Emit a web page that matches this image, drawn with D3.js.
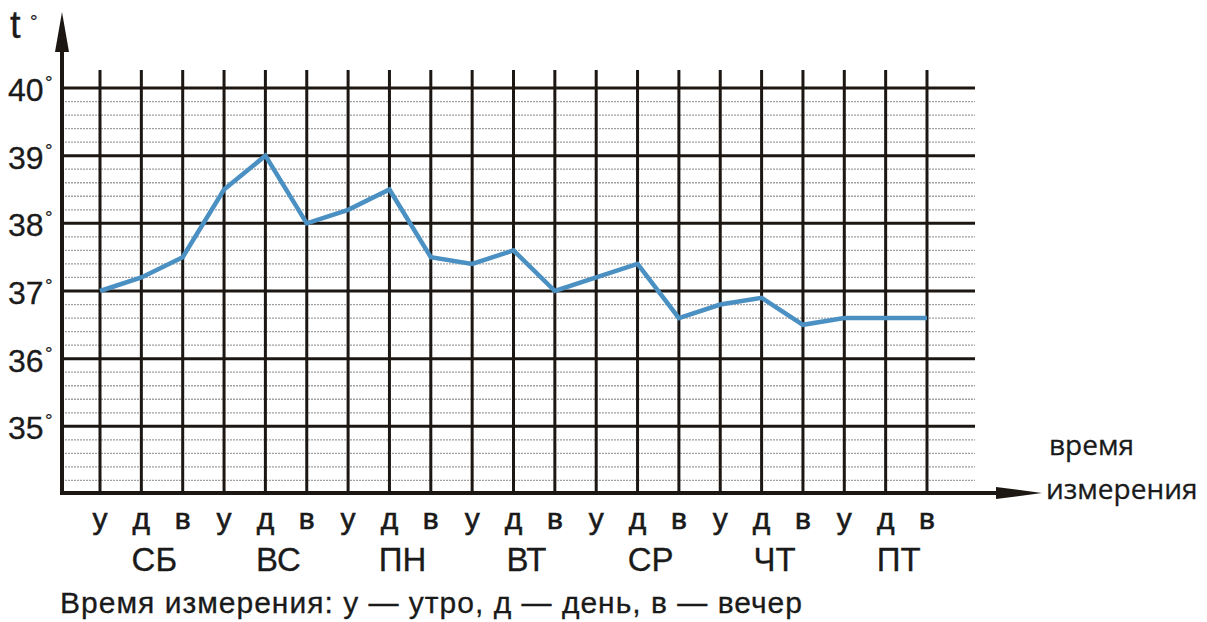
<!DOCTYPE html>
<html>
<head>
<meta charset="utf-8">
<script src="https://cdn.jsdelivr.net/npm/d3@7"></script>
<style>
  body { margin: 0; background: #fff; }
  text { font-family: "Liberation Sans", Arial, sans-serif; fill: #1a1a1a; stroke: #1a1a1a; stroke-width: 0.6px; }
</style>
</head>
<body>
<script>
// data
var days = ["СБ", "ВС", "ПН", "ВТ", "СР", "ЧТ", "ПТ"];
var times = ["у", "д", "в"];
var temps = [37.0, 37.2, 37.5, 38.5, 39.0, 38.0, 38.2, 38.5, 37.5, 37.4, 37.6, 37.0,
             37.2, 37.4, 36.6, 36.8, 36.9, 36.5, 36.6, 36.6, 36.6];
var yTicks = [35, 36, 37, 38, 39, 40];
var caption = "Время измерения: у — утро, д — день, в — вечер";

var width = 1207, height = 622;

var svg = d3.select("body").append("svg")
    .attr("width", width)
    .attr("height", height);

// scales
var x = d3.scaleLinear().domain([0, temps.length - 1]).range([100, 927]);
var y = d3.scaleLinear().domain([34, 40]).range([494, 88]);
var axisX = 62, axisY = y(34) - 1, gridRight = 975, gridTop = 70;

// minor horizontal grid (every 0.2 degree)
var minor = d3.range(34.2, 40, 0.2).filter(function(v) {
  return Math.abs(v - Math.round(v)) > 0.05;
});
svg.append("g").selectAll("line")
    .data(minor)
  .enter().append("line")
    .attr("x1", axisX).attr("x2", gridRight)
    .attr("y1", function(d) { return y(d); })
    .attr("y2", function(d) { return y(d); })
    .style("stroke", "#a0a0a0")
    .style("stroke-width", 1.3)
    .style("stroke-dasharray", "2,1");

// major horizontal grid
svg.append("g").selectAll("line")
    .data(yTicks)
  .enter().append("line")
    .attr("x1", axisX).attr("x2", gridRight)
    .attr("y1", function(d) { return y(d); })
    .attr("y2", function(d) { return y(d); })
    .style("stroke", "#1c1712")
    .style("stroke-width", 3);

// vertical grid
svg.append("g").selectAll("line")
    .data(temps)
  .enter().append("line")
    .attr("x1", function(d, i) { return x(i); })
    .attr("x2", function(d, i) { return x(i); })
    .attr("y1", gridTop).attr("y2", axisY)
    .style("stroke", "#1c1712")
    .style("stroke-width", 3);

// axes with arrows
svg.append("line")
    .attr("x1", axisX).attr("x2", axisX)
    .attr("y1", 40).attr("y2", axisY + 2)
    .style("stroke", "#1c1712").style("stroke-width", 4);
svg.append("path")
    .attr("d", "M" + axisX + ",12 L" + (axisX - 7) + ",52 L" + (axisX + 7) + ",52 Z")
    .style("fill", "#1c1712");
svg.append("line")
    .attr("x1", axisX - 2).attr("x2", 1010)
    .attr("y1", axisY).attr("y2", axisY)
    .style("stroke", "#1c1712").style("stroke-width", 4);
svg.append("path")
    .attr("d", "M1042," + axisY + " L996," + (axisY - 6) + " L996," + (axisY + 6) + " Z")
    .style("fill", "#1c1712");

// temperature line
var line = d3.line()
    .x(function(d, i) { return x(i); })
    .y(function(d) { return y(d); });

svg.append("path")
    .datum(temps)
    .attr("d", line)
    .style("fill", "none")
    .style("stroke", "#4b90c2")
    .style("stroke-width", 4.5)
    .style("stroke-linejoin", "miter");

// y labels
svg.append("g").selectAll("text")
    .data(yTicks)
  .enter().append("text")
    .attr("x", 8)
    .attr("y", function(d) { return y(d) + 13; })
    .style("font-size", "32px")
    .style("stroke-width", "0.3px")
    .text(function(d) { return d; });
svg.append("g").selectAll("text")
    .data(yTicks)
  .enter().append("text")
    .attr("x", 45)
    .attr("y", function(d) { return y(d) + 1; })
    .style("font-size", "19px")
    .style("stroke-width", "0.2px")
    .text("°");

svg.append("text")
    .attr("x", 10).attr("y", 38)
    .style("font-size", "38px")
    .style("stroke-width", "0.3px")
    .text("t");
svg.append("text")
    .attr("x", 30).attr("y", 28)
    .style("font-size", "19px")
    .style("stroke-width", "0.2px")
    .text("°");

// time-of-day labels
svg.append("g").selectAll("text")
    .data(temps)
  .enter().append("text")
    .attr("x", function(d, i) { return x(i); })
    .attr("y", 529)
    .attr("text-anchor", "middle")
    .style("font-size", "30px")
    .text(function(d, i) { return times[i % 3]; });

// day labels, a little right of the "д" column
svg.append("g").selectAll("text")
    .data(days)
  .enter().append("text")
    .attr("x", function(d, i) { return x(i * 3 + 1) + 13; })
    .attr("y", 571)
    .attr("text-anchor", "middle")
    .style("font-size", "33px")
    .style("stroke-width", "0.3px")
    .text(function(d) { return d; });

// axis title
svg.append("text")
    .attr("x", 1049).attr("y", 455)
    .style("font-size", "28px")
    .style("font-family", "'Open Sans', sans-serif")
    .style("stroke-width", "0.3px")
    .text("время");
svg.append("text")
    .attr("x", 1046).attr("y", 499)
    .style("font-size", "28px")
    .style("font-family", "'Open Sans', sans-serif")
    .style("stroke-width", "0.3px")
    .text("измерения");

// caption
svg.append("text")
    .attr("x", 60).attr("y", 613)
    .style("font-size", "30px")
    .style("stroke-width", "0.3px")
    .attr("textLength", 742)
    .text(caption);
</script>
</body>
</html>
